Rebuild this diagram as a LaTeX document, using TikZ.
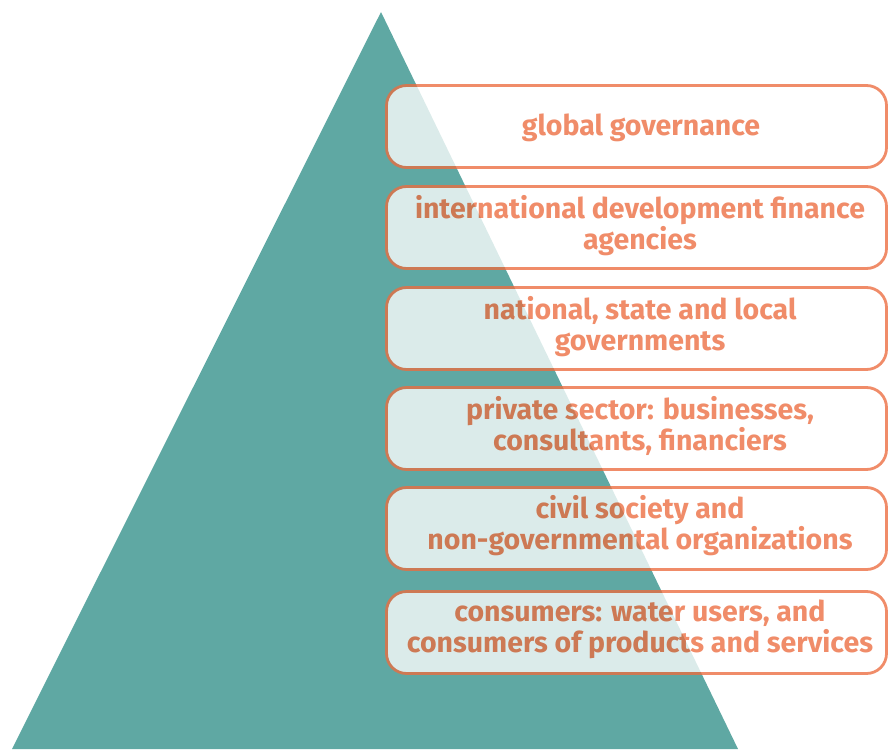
\documentclass[tikz,border=0pt]{standalone}
\usepackage{fontspec}
\setmainfont{Fira Sans}
\definecolor{tealA}{RGB}{95,168,163}
\definecolor{orng}{RGB}{236,108,63}
\tikzset{
  layerbox/.style={draw=orng, line width=2.8pt, fill=white, rounded corners=20pt,
    minimum width=500pt, minimum height=82pt, anchor=north west, inner sep=0pt, outer sep=0pt},
  lbl/.style={text=orng, font=\bfseries\fontsize{28.5}{31.5}\selectfont, align=center, inner sep=0pt},
  grp/.style={transparency group, opacity=0.78}
}
\begin{document}
\begin{tikzpicture}[x=1pt,y=-1pt]
\useasboundingbox (0,0) rectangle (888,749);
\coordinate (apex) at (381,12);
\coordinate (bl) at (12,749);
\coordinate (br) at (738,749);
\fill[tealA] (apex) -- (bl) -- (br) -- cycle;
\begin{scope}[grp]
  \node[layerbox] (b1) at (386.5,85.5) {};
  \node[lbl] (t1) at (641,128) {global governance};
\end{scope}
\begin{scope}[grp]
  \node[layerbox] (b2) at (386.5,186.5) {};
  \node[lbl] (t2) at (640,225.5) {international development finance\\agencies};
\end{scope}
\begin{scope}[grp]
  \node[layerbox] (b3) at (386.5,287.5) {};
  \node[lbl] (t3) at (640,326.5) {national, state and local\\governments};
\end{scope}
\begin{scope}[grp]
  \node[layerbox] (b4) at (386.5,387.5) {};
  \node[lbl] (t4) at (640,426) {private sector: businesses,\\consultants, financiers};
\end{scope}
\begin{scope}[grp]
  \node[layerbox] (b5) at (386.5,487.5) {};
  \node[lbl] (t5) at (640,525.5) {civil society and\\non-governmental organizations};
\end{scope}
\begin{scope}[grp]
  \node[layerbox] (b6) at (386.5,591.5) {};
  \node[lbl] (t6) at (640,629.5) {consumers: water users, and\\consumers of products and services};
\end{scope}
\end{tikzpicture}
\end{document}
